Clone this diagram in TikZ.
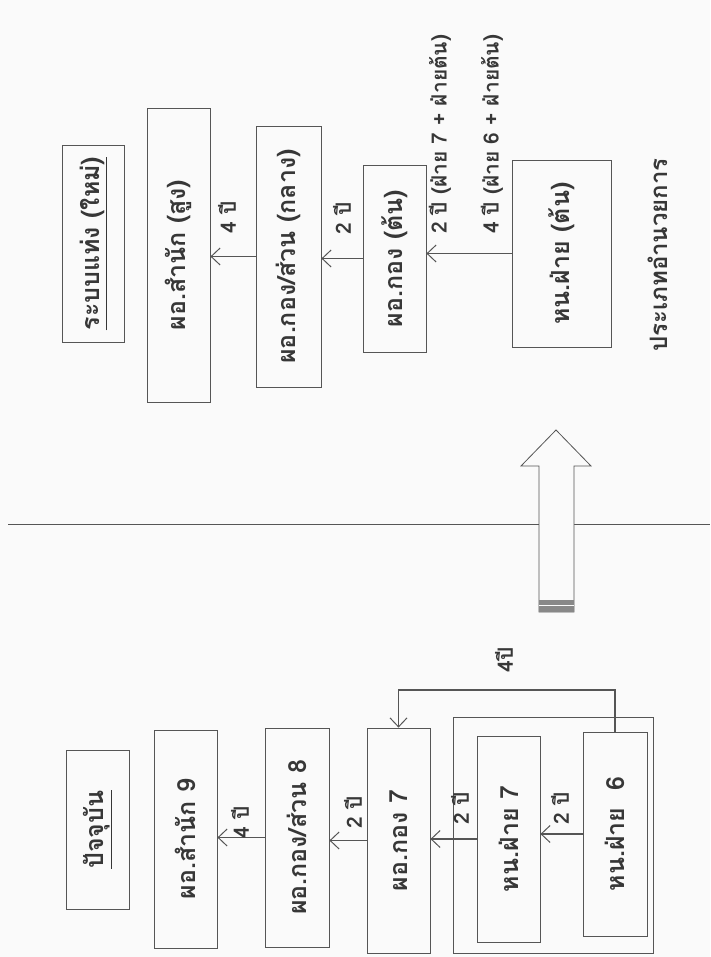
\documentclass[tikz,border=0pt]{standalone}
\usepackage{fontspec}
\newfontfamily\thai[Script=Thai]{Loma}
\usetikzlibrary{arrows.meta}
\definecolor{ink}{RGB}{85,85,85}
\definecolor{txt}{RGB}{55,55,55}
\definecolor{paper}{RGB}{250,250,250}
\begin{document}
\begin{tikzpicture}[x=1pt,y=-1pt,
  box/.style={draw=ink, line width=0.8pt, inner sep=0pt, text=txt, font=\thai\bfseries\fontsize{25}{27}\selectfont},
  lab/.style={rotate=90, text=txt, font=\thai\bfseries\fontsize{21}{23}\selectfont, inner sep=0pt},
  conn/.style={draw=ink, line width=1.6pt, -{Straight Barb[length=9pt,width=17pt,line width=1pt]}},
  rule/.style={draw=ink, line width=0.8pt}]
\fill[paper] (0,0) rectangle (710,957);
\useasboundingbox (0,0) rectangle (710,957);

% ---------- new system (top) ----------
\node[box, minimum width=62pt, minimum height=197pt] (title) at (93,243.5) {\rotatebox{90}{\underline{ระบบแท่ง (ใหม่)}}};
\node[box, minimum width=63pt, minimum height=294pt] (s1) at (178.5,255) {\rotatebox{90}{ผอ.สำนัก (สูง)}};
\node[box, minimum width=65pt, minimum height=261pt] (s2) at (288.5,256.5) {\rotatebox{90}{ผอ.กอง/ส่วน (กลาง)}};
\node[box, minimum width=63pt, minimum height=187pt] (s3) at (394.5,258.5) {\rotatebox{90}{ผอ.กอง (ต้น)}};
\node[box, minimum width=99pt, minimum height=187pt] (s4) at (561.5,253.5) {\rotatebox{90}{หน.ฝ่าย (ต้น)}};
\node[lab, font=\thai\bfseries\fontsize{24}{26}\selectfont] (type) at (658,255) {ประเภทอำนวยการ};

\draw[conn] (s2.west) -- (s2.west -| s1.east);
\draw[conn] (s3.west) -- (s3.west -| s2.east);
\draw[conn] (s4.west) -- (s4.west -| s3.east);
\node[lab] (l1) at (227,217) {4 ปี};
\node[lab] (l2) at (342,218) {2 ปี};
\node[lab, anchor=west] (l3) at (440,234) {2 ปี (ฝ่าย 7 + ฝ่ายต้น)};
\node[lab, anchor=west] (l4) at (492,234) {4 ปี (ฝ่าย 6 + ฝ่ายต้น)};

% ---------- divider and big arrow ----------
\draw[rule] (8,524) -- (539,524);
\draw[rule] (574,524) -- (710,524);
\draw[rule, fill=paper] (539,612) -- (539,466) -- (521,466) -- (556,430) -- (591,466) -- (574,466) -- (574,612) -- cycle;
\fill[ink!70] (539,600) rectangle (574,612);
\draw[paper, line width=0.8pt] (539,605) -- (574,605);

% ---------- current system (bottom) ----------
\node[box, minimum width=63pt, minimum height=159pt] (p0) at (97.5,829.5) {\rotatebox{90}{\underline{ปัจจุบัน}}};
\node[box, minimum width=63pt, minimum height=218pt] (p1) at (185.5,839) {\rotatebox{90}{ผอ.สำนัก 9}};
\node[box, minimum width=64pt, minimum height=219pt] (p2) at (297,837.5) {\rotatebox{90}{ผอ.กอง/ส่วน 8}};
\node[box, minimum width=63pt, minimum height=225pt] (p3) at (398.5,840.5) {\rotatebox{90}{ผอ.กอง 7}};
\node[box, minimum width=200pt, minimum height=236pt] (outer) at (553,835) {};
\node[box, minimum width=63pt, minimum height=206pt] (p4) at (508.5,839) {\rotatebox{90}{หน.ฝ่าย 7}};
\node[box, minimum width=64pt, minimum height=204pt] (p5) at (615,834) {\rotatebox{90}{หน.ฝ่าย \ 6}};

\draw[conn] (p2.west) -- (p2.west -| p1.east);
\draw[conn] (p3.west) -- (p3.west -| p2.east);
\draw[conn] (p4.west) -- (p4.west -| p3.east);
\draw[conn] (p5.west) -- (p5.west -| p4.east);
\coordinate (elb) at (0,690);
\draw[conn] (p5.north) -- (p5.north |- elb) -- (p3.north |- elb) -- (p3.north);

\node[lab] (m1) at (240,822) {4 ปี};
\node[lab] (m2) at (353,812) {2 ปี};
\node[lab] (m3) at (460,808) {2 ปี};
\node[lab] (m4) at (560,808) {2 ปี};
\node[lab] (m5) at (504,660) {4ปี};
\end{tikzpicture}
\end{document}
